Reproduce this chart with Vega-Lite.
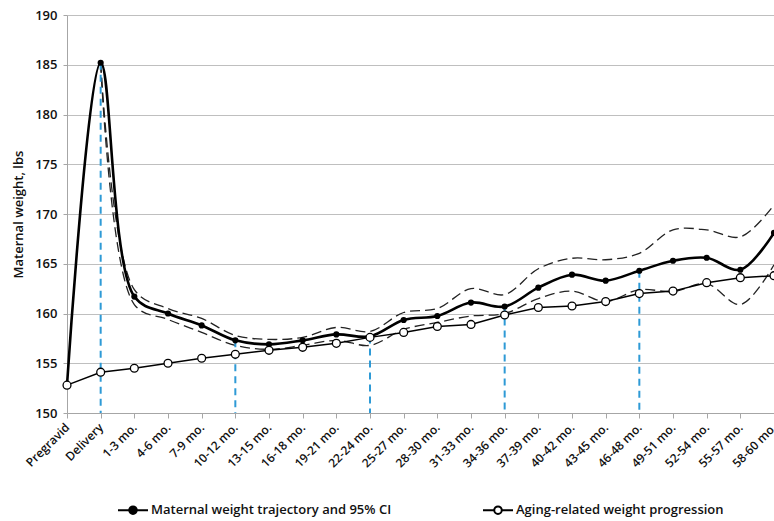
{
  "$schema": "https://vega.github.io/schema/vega-lite/v6.json",
  "width": 707,
  "height": 398,
  "autosize": {"type": "none"},
  "padding": {"left": 67, "top": 15, "right": 0, "bottom": 108},
  "background": "white",
  "config": {
    "view": {"stroke": null},
    "font": "Open Sans",
    "axis": {"labelFont": "Open Sans", "titleFont": "Open Sans", "labelColor": "#111", "titleColor": "#111"}
  },
  "datasets": {
    "rows": [
      {"cat": "Pregravid", "series": "Maternal weight trajectory and 95% CI", "value": 152.8},
      {"cat": "Delivery", "series": "Maternal weight trajectory and 95% CI", "value": 185.2},
      {"cat": "1-3 mo.", "series": "Maternal weight trajectory and 95% CI", "value": 161.7},
      {"cat": "4-6 mo.", "series": "Maternal weight trajectory and 95% CI", "value": 160.0},
      {"cat": "7-9 mo.", "series": "Maternal weight trajectory and 95% CI", "value": 158.8},
      {"cat": "10-12 mo.", "series": "Maternal weight trajectory and 95% CI", "value": 157.3},
      {"cat": "13-15 mo.", "series": "Maternal weight trajectory and 95% CI", "value": 156.9},
      {"cat": "16-18 mo.", "series": "Maternal weight trajectory and 95% CI", "value": 157.3},
      {"cat": "19-21 mo.", "series": "Maternal weight trajectory and 95% CI", "value": 157.9},
      {"cat": "22-24 mo.", "series": "Maternal weight trajectory and 95% CI", "value": 157.7},
      {"cat": "25-27 mo.", "series": "Maternal weight trajectory and 95% CI", "value": 159.35},
      {"cat": "28-30 mo.", "series": "Maternal weight trajectory and 95% CI", "value": 159.75},
      {"cat": "31-33 mo.", "series": "Maternal weight trajectory and 95% CI", "value": 161.1},
      {"cat": "34-36 mo.", "series": "Maternal weight trajectory and 95% CI", "value": 160.7},
      {"cat": "37-39 mo.", "series": "Maternal weight trajectory and 95% CI", "value": 162.6},
      {"cat": "40-42 mo.", "series": "Maternal weight trajectory and 95% CI", "value": 163.9},
      {"cat": "43-45 mo.", "series": "Maternal weight trajectory and 95% CI", "value": 163.3},
      {"cat": "46-48 mo.", "series": "Maternal weight trajectory and 95% CI", "value": 164.3},
      {"cat": "49-51 mo.", "series": "Maternal weight trajectory and 95% CI", "value": 165.3},
      {"cat": "52-54 mo.", "series": "Maternal weight trajectory and 95% CI", "value": 165.6},
      {"cat": "55-57 mo.", "series": "Maternal weight trajectory and 95% CI", "value": 164.4},
      {"cat": "58-60 mo.", "series": "Maternal weight trajectory and 95% CI", "value": 168.1},

      {"cat": "Pregravid", "series": "Aging-related weight progression", "value": 152.8},
      {"cat": "Delivery", "series": "Aging-related weight progression", "value": 154.1},
      {"cat": "1-3 mo.", "series": "Aging-related weight progression", "value": 154.5},
      {"cat": "4-6 mo.", "series": "Aging-related weight progression", "value": 155.0},
      {"cat": "7-9 mo.", "series": "Aging-related weight progression", "value": 155.5},
      {"cat": "10-12 mo.", "series": "Aging-related weight progression", "value": 155.9},
      {"cat": "13-15 mo.", "series": "Aging-related weight progression", "value": 156.3},
      {"cat": "16-18 mo.", "series": "Aging-related weight progression", "value": 156.6},
      {"cat": "19-21 mo.", "series": "Aging-related weight progression", "value": 157.0},
      {"cat": "22-24 mo.", "series": "Aging-related weight progression", "value": 157.6},
      {"cat": "25-27 mo.", "series": "Aging-related weight progression", "value": 158.1},
      {"cat": "28-30 mo.", "series": "Aging-related weight progression", "value": 158.7},
      {"cat": "31-33 mo.", "series": "Aging-related weight progression", "value": 158.9},
      {"cat": "34-36 mo.", "series": "Aging-related weight progression", "value": 159.85},
      {"cat": "37-39 mo.", "series": "Aging-related weight progression", "value": 160.6},
      {"cat": "40-42 mo.", "series": "Aging-related weight progression", "value": 160.75},
      {"cat": "43-45 mo.", "series": "Aging-related weight progression", "value": 161.2},
      {"cat": "46-48 mo.", "series": "Aging-related weight progression", "value": 162.0},
      {"cat": "49-51 mo.", "series": "Aging-related weight progression", "value": 162.25},
      {"cat": "52-54 mo.", "series": "Aging-related weight progression", "value": 163.1},
      {"cat": "55-57 mo.", "series": "Aging-related weight progression", "value": 163.6},
      {"cat": "58-60 mo.", "series": "Aging-related weight progression", "value": 163.8},

      {"cat": "Delivery", "series": "Upper 95% CI", "value": 185.2},
      {"cat": "1-3 mo.", "series": "Upper 95% CI", "value": 162.4},
      {"cat": "4-6 mo.", "series": "Upper 95% CI", "value": 160.5},
      {"cat": "7-9 mo.", "series": "Upper 95% CI", "value": 159.5},
      {"cat": "10-12 mo.", "series": "Upper 95% CI", "value": 157.8},
      {"cat": "13-15 mo.", "series": "Upper 95% CI", "value": 157.4},
      {"cat": "16-18 mo.", "series": "Upper 95% CI", "value": 157.6},
      {"cat": "19-21 mo.", "series": "Upper 95% CI", "value": 158.6},
      {"cat": "22-24 mo.", "series": "Upper 95% CI", "value": 158.2},
      {"cat": "25-27 mo.", "series": "Upper 95% CI", "value": 160.1},
      {"cat": "28-30 mo.", "series": "Upper 95% CI", "value": 160.5},
      {"cat": "31-33 mo.", "series": "Upper 95% CI", "value": 162.5},
      {"cat": "34-36 mo.", "series": "Upper 95% CI", "value": 161.9},
      {"cat": "37-39 mo.", "series": "Upper 95% CI", "value": 164.5},
      {"cat": "40-42 mo.", "series": "Upper 95% CI", "value": 165.55},
      {"cat": "43-45 mo.", "series": "Upper 95% CI", "value": 165.4},
      {"cat": "46-48 mo.", "series": "Upper 95% CI", "value": 166.05},
      {"cat": "49-51 mo.", "series": "Upper 95% CI", "value": 168.4},
      {"cat": "52-54 mo.", "series": "Upper 95% CI", "value": 168.4},
      {"cat": "55-57 mo.", "series": "Upper 95% CI", "value": 167.7},
      {"cat": "58-60 mo.", "series": "Upper 95% CI", "value": 170.9},

      {"cat": "Delivery", "series": "Lower 95% CI", "value": 185.2},
      {"cat": "1-3 mo.", "series": "Lower 95% CI", "value": 160.9},
      {"cat": "4-6 mo.", "series": "Lower 95% CI", "value": 159.4},
      {"cat": "7-9 mo.", "series": "Lower 95% CI", "value": 158.1},
      {"cat": "10-12 mo.", "series": "Lower 95% CI", "value": 156.8},
      {"cat": "13-15 mo.", "series": "Lower 95% CI", "value": 156.4},
      {"cat": "16-18 mo.", "series": "Lower 95% CI", "value": 156.8},
      {"cat": "19-21 mo.", "series": "Lower 95% CI", "value": 157.3},
      {"cat": "22-24 mo.", "series": "Lower 95% CI", "value": 156.8},
      {"cat": "25-27 mo.", "series": "Lower 95% CI", "value": 158.4},
      {"cat": "28-30 mo.", "series": "Lower 95% CI", "value": 159.1},
      {"cat": "31-33 mo.", "series": "Lower 95% CI", "value": 159.75},
      {"cat": "34-36 mo.", "series": "Lower 95% CI", "value": 160.0},
      {"cat": "37-39 mo.", "series": "Lower 95% CI", "value": 161.5},
      {"cat": "40-42 mo.", "series": "Lower 95% CI", "value": 162.25},
      {"cat": "43-45 mo.", "series": "Lower 95% CI", "value": 161.2},
      {"cat": "46-48 mo.", "series": "Lower 95% CI", "value": 162.4},
      {"cat": "49-51 mo.", "series": "Lower 95% CI", "value": 162.2},
      {"cat": "52-54 mo.", "series": "Lower 95% CI", "value": 163.0},
      {"cat": "55-57 mo.", "series": "Lower 95% CI", "value": 160.9},
      {"cat": "58-60 mo.", "series": "Lower 95% CI", "value": 164.9}
    ]
  },
  "data": {"name": "rows"},
  "encoding": {
    "x": {
      "field": "cat",
      "type": "nominal",
      "sort": null,
      "scale": {
        "type": "point",
        "padding": 0,
        "domain": ["Pregravid", "Delivery", "1-3 mo.", "4-6 mo.", "7-9 mo.", "10-12 mo.", "13-15 mo.", "16-18 mo.", "19-21 mo.", "22-24 mo.", "25-27 mo.", "28-30 mo.", "31-33 mo.", "34-36 mo.", "37-39 mo.", "40-42 mo.", "43-45 mo.", "46-48 mo.", "49-51 mo.", "52-54 mo.", "55-57 mo.", "58-60 mo."]
      },
      "axis": {
        "title": null,
        "labelAngle": -45,
        "labelAlign": "right",
        "labelBaseline": "middle",
        "labelFontSize": 12,
        "labelFontWeight": 600,
        "labelPadding": 7,
        "domainColor": "#a6a6a6",
        "tickColor": "#a6a6a6",
        "tickSize": 5,
        "grid": false
      }
    },
    "y": {
      "field": "value",
      "type": "quantitative",
      "scale": {"domain": [150, 190], "nice": false, "zero": false},
      "axis": {
        "title": "Maternal weight, lbs",
        "titleFontSize": 13,
        "titleFontWeight": 600,
        "titlePadding": 9,
        "values": [150, 155, 160, 165, 170, 175, 180, 185, 190],
        "labelFontSize": 13,
        "labelFontWeight": 600,
        "labelPadding": 6,
        "domainColor": "#a6a6a6",
        "tickColor": "#a6a6a6",
        "tickSize": 4,
        "gridColor": "#bfbfbf",
        "gridWidth": 1
      }
    }
  },
  "layer": [
    {
      "transform": [{"filter": {"field": "series", "oneOf": ["Upper 95% CI", "Lower 95% CI"]}}],
      "mark": {"type": "line", "interpolate": "catmull-rom", "color": "#222", "strokeWidth": 1.3, "strokeDash": [10, 5]},
      "encoding": {"detail": {"field": "series"}}
    },
    {
      "transform": [{"filter": {"field": "series", "equal": "Maternal weight trajectory and 95% CI"}}],
      "mark": {"type": "line", "interpolate": "catmull-rom", "color": "#000", "strokeWidth": 2.6}
    },
    {
      "transform": [{"filter": {"field": "series", "equal": "Aging-related weight progression"}}],
      "mark": {"type": "line", "color": "#000", "strokeWidth": 1.5}
    },
    {
      "transform": [
        {"filter": {"field": "series", "equal": "Maternal weight trajectory and 95% CI"}},
        {"filter": {"field": "cat", "oneOf": ["Delivery", "10-12 mo.", "22-24 mo.", "34-36 mo.", "46-48 mo."]}}
      ],
      "mark": {"type": "rule", "color": "#2E9AD6", "strokeWidth": 2, "strokeDash": [7, 5]},
      "encoding": {"y2": {"datum": 150}}
    },
    {
      "transform": [{"filter": {"field": "series", "oneOf": ["Maternal weight trajectory and 95% CI", "Aging-related weight progression"]}}],
      "mark": {"type": "point", "filled": false, "stroke": "#000", "strokeWidth": 1.3, "opacity": 0, "size": 30},
      "encoding": {
        "fill": {
          "field": "series",
          "type": "nominal",
          "sort": null,
          "scale": {"domain": ["Maternal weight trajectory and 95% CI", "Aging-related weight progression"], "range": ["#000000", "#ffffff"]},
          "legend": {
            "title": null,
            "orient": "none",
            "legendX": 50,
            "legendY": 479,
            "direction": "horizontal",
            "columns": 2,
            "columnPadding": 87,
            "padding": 0,
            "symbolType": "M-1,0H-0.25M0.25,0H1M0.25,0A0.25,0.25,0,1,1,-0.25,0A0.25,0.25,0,1,1,0.25,0Z",
            "symbolSize": 900,
            "symbolStrokeColor": "#000",
            "symbolStrokeWidth": 2,
            "symbolOpacity": 1,
            "labelFont": "Open Sans",
            "labelFontSize": 13,
            "labelFontWeight": 600,
            "labelColor": "#111",
            "labelOffset": 2,
            "labelLimit": 400
          }
        }
      }
    },
    {
      "transform": [{"filter": {"field": "series", "equal": "Maternal weight trajectory and 95% CI"}}],
      "mark": {"type": "point", "filled": true, "color": "#000", "size": 38, "opacity": 1}
    },
    {
      "transform": [{"filter": {"field": "series", "equal": "Aging-related weight progression"}}],
      "mark": {"type": "point", "filled": true, "fill": "#ffffff", "stroke": "#000", "strokeWidth": 1.3, "size": 62, "opacity": 1}
    }
  ]
}
